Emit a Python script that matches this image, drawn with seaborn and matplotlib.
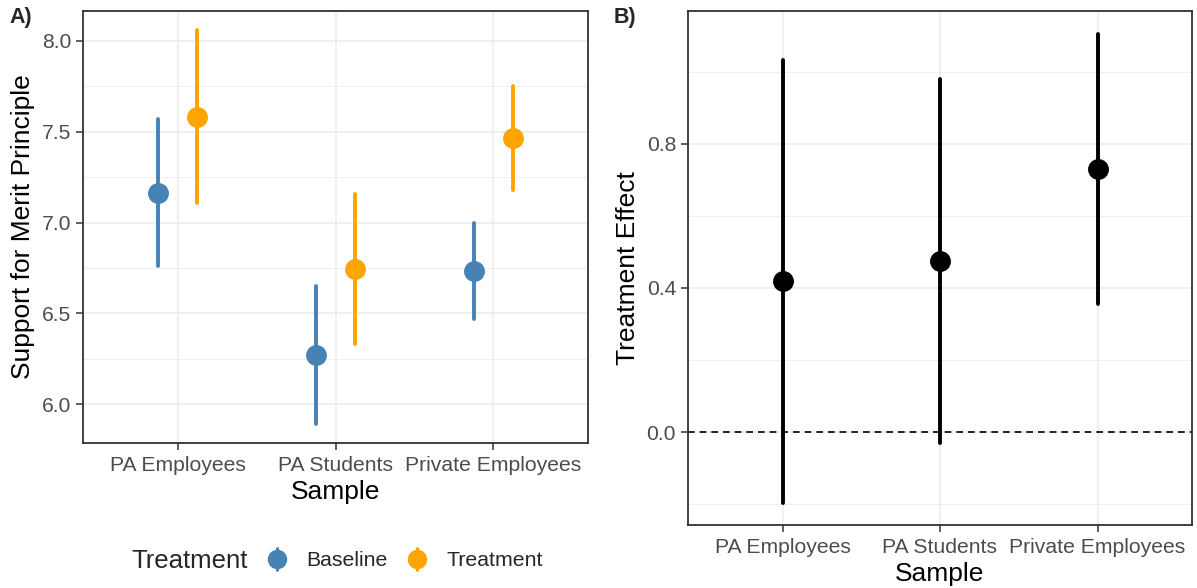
import numpy as np
import pandas as pd
import seaborn as sns
import matplotlib
matplotlib.use("Agg")
import matplotlib.pyplot as plt
from matplotlib.lines import Line2D
from matplotlib.ticker import MultipleLocator

# ---------------- data ----------------
samples = ["PA Employees", "PA Students", "Private Employees"]
groups = ["Baseline", "Treatment"]
# Panel A: mean and 95% CI (low, high) per sample
baseline_est = [7.164, 6.269, 6.736]
baseline_lo = [6.763, 5.892, 6.471]
baseline_hi = [7.568, 6.649, 7.000]
treatment_est = [7.583, 6.747, 7.467]
treatment_lo = [7.109, 6.333, 7.179]
treatment_hi = [8.061, 7.160, 7.752]
# Panel B: treatment effect and CI
effect_est = [0.419, 0.474, 0.729]
effect_lo = [-0.196, -0.031, 0.356]
effect_hi = [1.033, 0.981, 1.106]

colors = {"Baseline": "#4682B4", "Treatment": "#FFA500"}

# long tables: each group gets rows (lo, est, hi); median -> est, 100% interval -> lo..hi
rows = []
for grp, est, lo, hi in [("Baseline", baseline_est, baseline_lo, baseline_hi),
                         ("Treatment", treatment_est, treatment_lo, treatment_hi)]:
    for s, e, l, h in zip(samples, est, lo, hi):
        for v in (l, e, h):
            rows.append({"Sample": s, "Treatment": grp, "value": v})
dfA = pd.DataFrame(rows)

rowsB = []
for s, e, l, h in zip(samples, effect_est, effect_lo, effect_hi):
    for v in (l, e, h):
        rowsB.append({"Sample": s, "value": v})
dfB = pd.DataFrame(rowsB)

# ---------------- style ----------------
sns.set_theme(style="white")
plt.rcParams["font.family"] = ["Liberation Sans", "DejaVu Sans"]

W, H = 1197, 588
fig = plt.figure(figsize=(W / 100, H / 100), dpi=100)

def px_axes(left, right, top, bottom):
    return fig.add_axes([left / W, 1 - bottom / H, (right - left) / W, (bottom - top) / H])

axA = px_axes(83, 588, 11, 443)
axB = px_axes(688, 1192, 11, 525)

TICK = 15.2
TITLE = 19

def style_ax(ax, major, minor, ylim):
    ax.set_xlim(-0.6, 2.6)
    ax.set_ylim(*ylim)
    ax.yaxis.set_major_locator(MultipleLocator(major))
    ax.yaxis.set_minor_locator(MultipleLocator(minor))
    ax.grid(True, which="major", color="#EBEBEB", linewidth=1.1, zorder=0)
    ax.grid(True, which="minor", axis="y", color="#EBEBEB", linewidth=0.6, zorder=0)
    ax.set_axisbelow(True)
    for sp in ax.spines.values():
        sp.set_color("#333333")
        sp.set_linewidth(1.3)
        sp.set_visible(True)
    ax.tick_params(axis="both", which="major", length=5, width=1.1, color="#333333",
                   labelcolor="#4D4D4D", labelsize=TICK, left=True, bottom=True)
    ax.tick_params(axis="y", which="major", pad=3.6)
    ax.tick_params(axis="x", which="major", pad=4.2)
    ax.tick_params(axis="y", which="minor", length=0)
    ax.set_xlabel("Sample", fontsize=TITLE, color="black", labelpad=4)

# Panel A
sns.pointplot(data=dfA, x="Sample", y="value", hue="Treatment", order=samples,
              hue_order=groups, palette=colors, estimator="median",
              errorbar=("pi", 100), dodge=0.25, linestyle="none", markers="o",
              markersize=13, err_kws={"linewidth": 2.8}, ax=axA, legend=False)
style_ax(axA, 0.5, 0.25, (5.787, 8.165))
axA.set_yticks([6.0, 6.5, 7.0, 7.5, 8.0])
axA.set_yticklabels(["6.0", "6.5", "7.0", "7.5", "8.0"])
axA.set_ylabel("Support for Merit Principle", fontsize=TITLE, color="black", labelpad=4.5)

# Panel B
sns.pointplot(data=dfB, x="Sample", y="value", order=samples, color="black",
              estimator="median", errorbar=("pi", 100), linestyle="none", markers="o",
              markersize=13, err_kws={"linewidth": 2.8}, ax=axB)
style_ax(axB, 0.4, 0.2, (-0.258, 1.169))
axB.set_yticks([0.0, 0.4, 0.8])
axB.set_yticklabels(["0.0", "0.4", "0.8"])
axB.axhline(0, color="black", linestyle=(0, (4, 3)), linewidth=1.2, zorder=1)
axB.set_ylabel("Treatment Effect", fontsize=TITLE, color="black", labelpad=4.5)

# panel tags
fig.text(9 / W, 1 - 17 / H, "A)", fontsize=15.5, fontweight="bold", va="center", ha="left")
fig.text(614 / W, 1 - 17 / H, "B)", fontsize=15.5, fontweight="bold", va="center", ha="left")

# legend
fig.text(131 / W, 1 - 561 / H, "Treatment", fontsize=18.5, va="center", ha="left")
handles = []
for g in groups:
    bar = Line2D([], [], color=colors[g], marker="|", markersize=17.5, markeredgewidth=2.2,
                 linestyle="none")
    dot = Line2D([], [], color=colors[g], marker="o", markersize=13, linestyle="none")
    handles.append((bar, dot))
fig.legend(handles, groups, loc="center left", bbox_to_anchor=(264.5 / W, 1 - 561 / H),
           ncol=2, frameon=False, fontsize=15.3, handlelength=1.2, handletextpad=0.76,
           columnspacing=0.8, borderpad=0, borderaxespad=0)

fig.savefig("out.png", dpi=100)
